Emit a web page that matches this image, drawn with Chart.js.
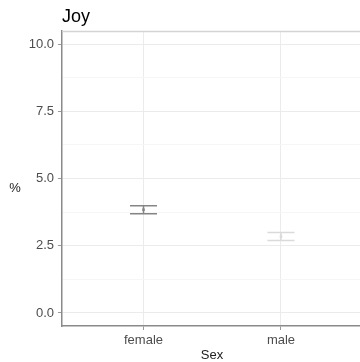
<!DOCTYPE html>
<html>
<head>
<meta charset="utf-8">
<script src="https://cdn.jsdelivr.net/npm/chart.js@4"></script>
<style>
  html, body { margin: 0; padding: 0; background: #fff; overflow: hidden; }
  #wrap { position: relative; width: 360px; height: 362px; }
</style>
</head>
<body>
<div id="wrap"><canvas id="chart"></canvas></div>
<script>
// data
const categories = ['female', 'male'];
const means = [3.84, 2.84];
const lower = [3.69, 2.69];
const upper = [3.99, 2.99];
const barColors = ['#858585', '#dadada'];
const yTicks = [0, 2.5, 5, 7.5, 10];
const titleText = 'Joy';
const xTitle = 'Sex';
const yTitle = '%';

const FONT = '"Liberation Sans", Arial, sans-serif';

// error bars + titles drawn with the chart's scales
const errorBarPlugin = {
  id: 'errorBars',
  afterLayout(chart) {
    // panel runs to the right edge of the picture
    chart.chartArea.right = chart.width;
    chart.scales.x.right = chart.width;
    chart.scales.x.width = chart.width - chart.scales.x.left;
    chart.scales.x.configure();
  },
  afterDatasetsDraw(chart) {
    const { ctx, scales: { x, y }, chartArea } = chart;
    ctx.save();
    ctx.strokeStyle = '#d4d4d4';
    ctx.lineWidth = 1.5;
    ctx.beginPath();
    ctx.moveTo(chartArea.left, chartArea.top + 0.5);
    ctx.lineTo(chartArea.right, chartArea.top + 0.5);
    ctx.stroke();

    categories.forEach((c, i) => {
      const px = x.getPixelForValue(i + 1);
      const yt = y.getPixelForValue(upper[i]);
      const yb = y.getPixelForValue(lower[i]);
      const half = 13.5;
      ctx.strokeStyle = barColors[i];
      ctx.lineWidth = 1.5;
      ctx.beginPath();
      ctx.moveTo(px - half, yt); ctx.lineTo(px + half, yt);
      ctx.moveTo(px - half, yb); ctx.lineTo(px + half, yb);
      ctx.moveTo(px, yt); ctx.lineTo(px, yb);
      ctx.stroke();
    });

    ctx.fillStyle = '#000';
    ctx.font = '18px ' + FONT;
    ctx.textAlign = 'left';
    ctx.textBaseline = 'alphabetic';
    ctx.fillText(titleText, chartArea.left, 22);

    ctx.font = '13px ' + FONT;
    ctx.fillStyle = '#222';
    ctx.textAlign = 'center';
    ctx.fillText(xTitle, 212, 359);
    ctx.fillText(yTitle, 15, 192);
    ctx.restore();
  }
};

new Chart(document.getElementById('chart'), {
  type: 'scatter',
  data: {
    datasets: [{
      data: means.map((m, i) => ({ x: i + 1, y: m })),
      pointRadius: 1.8,
      pointStyle: 'rect',
      pointBackgroundColor: barColors,
      pointBorderColor: barColors,
      pointBorderWidth: 0
    }]
  },
  options: {
    responsive: true,
    maintainAspectRatio: false,
    animation: false,
    devicePixelRatio: 1,
    layout: { padding: { top: 31, bottom: 0, left: 0, right: 0 } },
    plugins: { legend: { display: false }, tooltip: { enabled: false }, title: { display: false } },
    scales: {
      x: {
        type: 'linear',
        min: 0.407,
        max: 2.575,
        afterBuildTicks: s => { s.ticks = categories.map((c, i) => ({ value: i + 1 })); },
        afterFit: s => { s.height = 36; },
        ticks: {
          callback: v => categories[v - 1] || '',
          font: { family: FONT, size: 13 },
          color: '#4d4d4d',
          padding: 3,
          maxRotation: 0
        },
        grid: { color: '#ebebeb', tickColor: '#999', tickLength: 4, lineWidth: 1 },
        border: { color: '#8a8a8a', width: 1.5 }
      },
      y: {
        type: 'linear',
        min: -0.485,
        max: 10.485,
        afterBuildTicks: s => {
          const t = [];
          for (let v = 0; v <= 10.001; v += 1.25) t.push({ value: v });
          s.ticks = t;
        },
        afterFit: s => { s.width = 62; },
        ticks: {
          callback: v => (yTicks.includes(v) ? v.toFixed(1) : ''),
          font: { family: FONT, size: 13 },
          color: '#4d4d4d',
          padding: 4
        },
        grid: {
          color: ctx => (yTicks.includes(ctx.tick && ctx.tick.value) ? '#ebebeb' : '#f6f6f6'),
          tickColor: ctx => (yTicks.includes(ctx.tick && ctx.tick.value) ? '#999' : 'rgba(0,0,0,0)'),
          tickLength: 4,
          lineWidth: 1
        },
        border: { color: '#8a8a8a', width: 1.5 }
      }
    }
  },
  plugins: [errorBarPlugin]
});
</script>
</body>
</html>
